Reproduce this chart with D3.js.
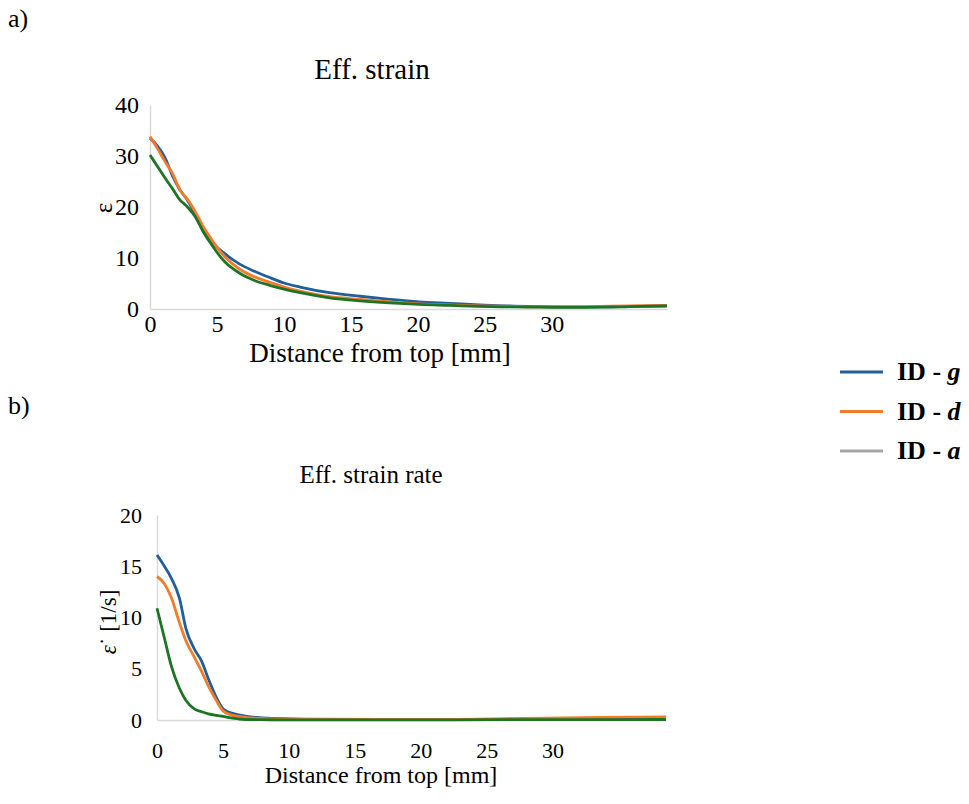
<!DOCTYPE html>
<html>
<head>
<meta charset="utf-8">
<script src="https://cdn.jsdelivr.net/npm/d3@7"></script>
<style>
  body { margin: 0; background: #fff; }
  text { font-family: "Liberation Serif", "Times New Roman", serif; fill: #000; }
</style>
</head>
<body>
<svg id="chart" width="969" height="804"></svg>
<script>
// Series names and colours
const seriesNames = ["ID - g", "ID - d", "ID - a"];
const seriesColors = ["#215f9a", "#f07c2c", "#1d7424"];
const legendColors = ["#215f9a", "#f07c2c", "#a5a5a5"];

// a) Effective strain vs distance from top [mm]
const strainX = [0, 0.55, 1.1, 1.7, 2.2, 2.8, 3.4, 3.9, 4.5, 5.6, 6.7, 7.8, 9, 10, 11.2, 13.4, 15.7, 17.9, 20.1, 22.4, 24.6, 26.9, 29.1, 31.3, 33.6, 35.8, 38.6];
const strainG = [33.5, 32, 29.8, 26, 23.5, 21.3, 18.4, 15.8, 13.5, 10.8, 8.8, 7.4, 6.1, 5.1, 4.3, 3.2, 2.5, 1.9, 1.4, 1.1, 0.8, 0.6, 0.45, 0.4, 0.4, 0.5, 0.6];
const strainD = [33.8, 31.5, 29, 26.5, 23.5, 21.5, 19, 16.5, 14, 10.2, 7.8, 6.3, 5.2, 4.3, 3.5, 2.4, 1.9, 1.4, 1.0, 0.8, 0.6, 0.5, 0.4, 0.4, 0.5, 0.6, 0.7];
const strainA = [30.2, 28, 25.8, 23.5, 21.5, 20, 18, 15.5, 13, 9.2, 7.0, 5.6, 4.6, 3.9, 3.2, 2.2, 1.6, 1.2, 0.9, 0.7, 0.5, 0.4, 0.35, 0.3, 0.35, 0.45, 0.6];

// b) Effective strain rate [1/s] vs distance from top [mm]
const rateX = [0, 0.56, 1.1, 1.7, 2.2, 2.8, 3.4, 3.9, 4.5, 5.0, 5.6, 6.2, 6.7, 7.8, 9, 11.2, 16.8, 22.4, 28, 33.6, 38.6];
const rateG = [16.1, 15.0, 13.8, 11.9, 8.9, 7.0, 5.7, 4.0, 2.2, 1.1, 0.7, 0.5, 0.38, 0.22, 0.15, 0.08, 0.05, 0.05, 0.1, 0.15, 0.2];
const rateD = [14.0, 13.3, 11.9, 9.5, 7.7, 6.2, 4.7, 3.3, 1.9, 0.9, 0.5, 0.35, 0.25, 0.15, 0.1, 0.06, 0.05, 0.05, 0.15, 0.25, 0.3];
const rateA = [10.9, 8.0, 5.2, 3.1, 1.9, 1.1, 0.8, 0.6, 0.45, 0.35, 0.2, 0.1, 0.05, 0.03, 0.02, 0.02, 0.02, 0.02, 0.03, 0.04, 0.05];

const xTicks = [0, 5, 10, 15, 20, 25, 30];
const strainTicks = [0, 10, 20, 30, 40];
const rateTicks = [0, 5, 10, 15, 20];

const svg = d3.select("#chart");

function drawPanel(opts) {
    let x = d3.scaleLinear().domain([0, 38.6]).range([opts.left, opts.right]);
    let y = d3.scaleLinear().domain([0, opts.yMax]).range([opts.bottom, opts.top]);
    let g = svg.append("g");

    // axis lines (Excel style, light grey, no tick marks)
    let xAxis = g.append("g")
        .attr("transform", "translate(0," + opts.bottom + ")")
        .call(d3.axisBottom(x).tickValues(xTicks).tickSize(0).tickPadding(opts.xPad));
    let yAxis = g.append("g")
        .attr("transform", "translate(" + opts.left + ",0)")
        .call(d3.axisLeft(y).tickValues(opts.yTicks).tickSize(0).tickPadding(opts.yPad));
    [xAxis, yAxis].forEach(a => {
        a.select(".domain").attr("stroke", "#d9d9d9").attr("stroke-width", 1.5);
        a.selectAll("text")
            .style("font-family", "'Liberation Serif', serif")
            .style("font-size", opts.tickSize + "px")
            .attr("fill", "#000");
    });

    // lines
    let line = d3.line()
        .x(d => x(d[0]))
        .y(d => y(d[1]))
        .curve(d3.curveMonotoneX);
    opts.series.forEach((vals, i) => {
        g.append("path")
            .datum(opts.xs.map((v, j) => [v, vals[j]]))
            .attr("fill", "none")
            .attr("stroke", seriesColors[i])
            .attr("stroke-width", 2.8)
            .attr("stroke-linejoin", "round")
            .attr("d", line);
    });

    // titles
    g.append("text")
        .attr("x", opts.titleX).attr("y", opts.titleY)
        .attr("text-anchor", "middle")
        .style("font-size", opts.titleSize + "px")
        .text(opts.title);
    g.append("text")
        .attr("x", 8).attr("y", opts.tagY)
        .style("font-size", "26px")
        .text(opts.tag);
    g.append("text")
        .attr("x", opts.xLabelX).attr("y", opts.xLabelY)
        .attr("text-anchor", "middle")
        .style("font-size", opts.xLabelSize + "px")
        .text("Distance from top [mm]");
    let yl = g.append("text")
        .attr("transform", "translate(" + opts.yLabelX + "," + opts.yLabelY + ") rotate(-90)")
        .attr("text-anchor", "middle")
        .style("font-size", opts.yLabelSize + "px");
    yl.append("tspan").style("font-style", opts.yItalic ? "italic" : "normal").text("ε");
    if (opts.yLabel) yl.append("tspan").text(opts.yLabel);
}

drawPanel({
    left: 150, right: 667, top: 105, bottom: 309, yMax: 40,
    yTicks: strainTicks, xPad: 6, yPad: 11, tickSize: 24,
    xs: strainX, series: [strainG, strainD, strainA],
    title: "Eff. strain", titleX: 372, titleY: 79, titleSize: 29,
    tag: "a)", tagY: 27,
    xLabelX: 380, xLabelY: 362, xLabelSize: 27,
    yLabel: "", yItalic: false, yLabelX: 112, yLabelY: 208, yLabelSize: 25
});

drawPanel({
    left: 157, right: 666, top: 515, bottom: 720, yMax: 20,
    yTicks: rateTicks, xPad: 22, yPad: 15, tickSize: 22,
    xs: rateX, series: [rateG, rateD, rateA],
    title: "Eff. strain rate", titleX: 371, titleY: 483, titleSize: 25,
    tag: "b)", tagY: 414,
    xLabelX: 381, xLabelY: 783, xLabelSize: 24,
    yLabel: "˙ [1/s]", yItalic: true, yLabelX: 116, yLabelY: 622, yLabelSize: 23
});

// legend
const legend = svg.append("g").attr("transform", "translate(840,372)");
const legendY = d3.scalePoint().domain(seriesNames).range([0, 79]);
seriesNames.forEach((name, i) => {
    let row = legend.append("g").attr("transform", "translate(0," + legendY(name) + ")");
    row.append("line")
        .attr("x1", 0).attr("x2", 43)
        .attr("stroke", legendColors[i]).attr("stroke-width", 3);
    let t = row.append("text")
        .attr("x", 57).attr("y", 8)
        .style("font-size", "26px")
        .style("font-weight", "bold");
    t.append("tspan").text("ID - ");
    t.append("tspan").style("font-style", "italic").text(name.slice(-1));
});
</script>
</body>
</html>
